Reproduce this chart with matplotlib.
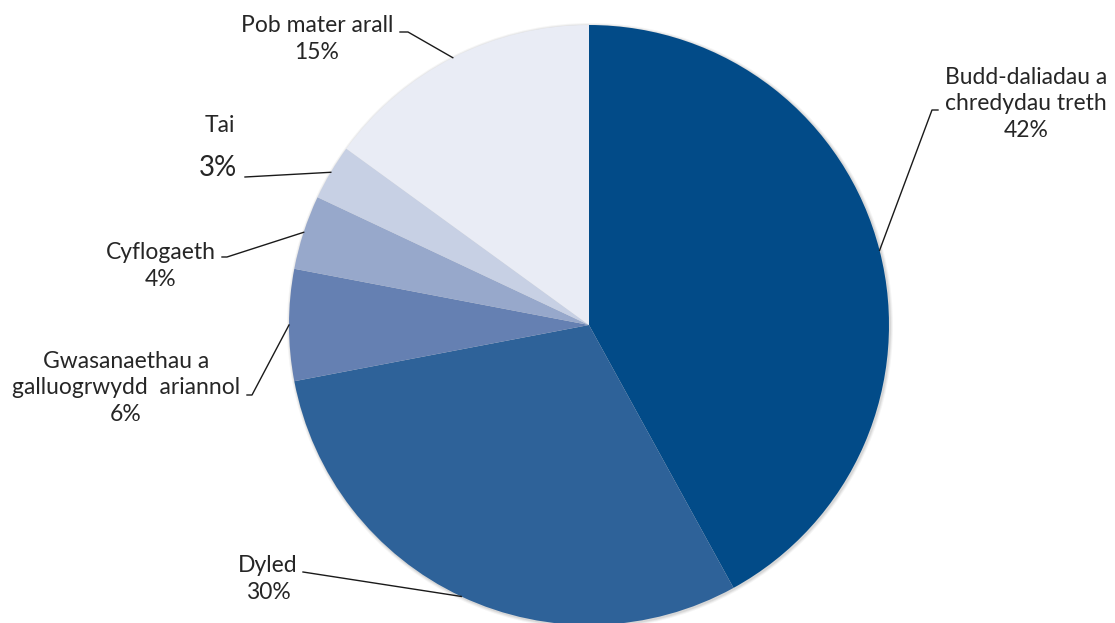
import numpy as np
import matplotlib
matplotlib.use("Agg")
import matplotlib.pyplot as plt
from matplotlib.patches import Circle

# ---- data ----
categories = ["Budd-daliadau a\nchredydau treth", "Dyled",
              "Gwasanaethau a\ngalluogrwydd  ariannol", "Cyflogaeth",
              "Tai", "Pob mater arall"]
values = [42, 30, 6, 4, 3, 15]
pct_labels = ["42%", "30%", "6%", "4%", "3%", "15%"]
colors = ["#024B88", "#2E6299", "#6580B2", "#97A8CB", "#C7D0E4", "#E9ECF5"]

W, H = 1115, 623
fig = plt.figure(figsize=(W / 100, H / 100), dpi=100)
ax = fig.add_axes([0, 0, 1, 1])

cx, cy, R = 589, H - 325, 300

# soft shadow
for i, a in enumerate([0.04, 0.05, 0.07]):
    ax.add_patch(Circle((cx + 1, cy - 1), R + 3 - i, color="#000000", alpha=a, lw=0, zorder=0))

wedges, _ = ax.pie(values, colors=colors, startangle=90, counterclock=False,
                   center=(cx, cy), radius=R, wedgeprops=dict(linewidth=0, zorder=1),
                   frame=True)

ax.set_xlim(0, W)
ax.set_ylim(0, H)
ax.set_aspect("equal")
ax.axis("off")

font = "Lato"
tc = "#262626"
FS = 16.5

# label layout: (text centre x, block centre y (top-down px), leader points before edge)
layout = {
    0: dict(xy=(1026, 104), line=[(938, 110), (932, 110)]),
    1: dict(xy=(268, 579), line=[(303, 572)]),
    2: dict(xy=(126, 388), line=[(247, 395), (252, 395)]),
    3: dict(xy=(161, 266), line=[(222, 257), (227, 257)]),
    5: dict(xy=(317, 39), line=[(400, 32), (408, 32)]),
}

for i, w in enumerate(wedges):
    mid = np.deg2rad((w.theta1 + w.theta2) / 2)
    ex, ey = cx + R * np.cos(mid), cy + R * np.sin(mid)
    if i == 4:
        ax.text(220, H - 125, categories[i], ha="center", va="center",
                fontsize=FS, family=font, color=tc)
        ax.text(218, H - 168, pct_labels[i], ha="center", va="center",
                fontsize=20, family=font, color=tc)
        pts = [(245, 177)]
    else:
        L = layout[i]
        ax.text(L["xy"][0], H - L["xy"][1], categories[i] + "\n" + pct_labels[i],
                ha="center", va="center", fontsize=FS, family=font, color=tc,
                linespacing=1.3)
        pts = L["line"]
    xs = [p[0] for p in pts] + [ex]
    ys = [H - p[1] for p in pts] + [ey]
    ax.plot(xs, ys, color="#1a1a1a", lw=1.0, zorder=3)

fig.savefig("out.png", dpi=100, facecolor="white")
